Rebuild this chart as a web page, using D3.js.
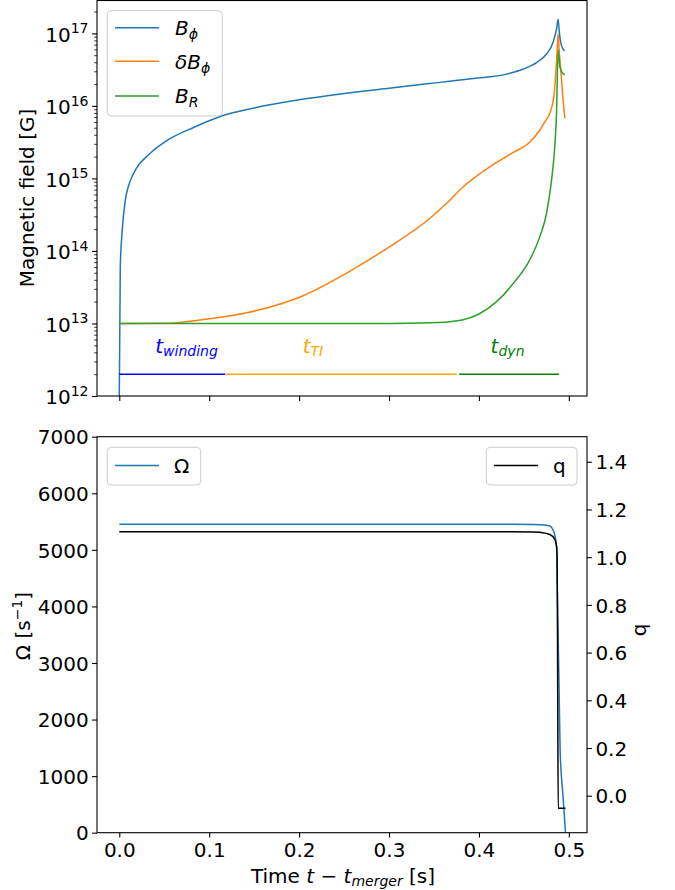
<!DOCTYPE html>
<html><head><meta charset="utf-8">
<script src="https://cdn.jsdelivr.net/npm/d3@7"></script>
<style>body{margin:0;background:#fff} svg{display:block} text{font-family:"DejaVu Sans",sans-serif}</style>
</head><body><svg id="c" width="675" height="890"></svg>
<script>
// ---- data ----
const tPhi = [0, 0.0011, 0.003, 0.0067, 0.0106, 0.0159, 0.0344, 0.053, 0.0826, 0.1122, 0.15, 0.2, 0.25, 0.3, 0.3567, 0.3937, 0.4308, 0.4492, 0.4641, 0.4752, 0.4826, 0.4863, 0.4881, 0.4892, 0.4908, 0.493, 0.4956];
const bPhi = [1e12, 6.07e13, 1.75e14, 5.04e14, 8.1e14, 1.175e15, 2.22e15, 3.33e15, 5.04e15, 7.14e15, 9.35e15, 1.213e16, 1.48e16, 1.754e16, 2.11e16, 2.38e16, 2.74e16, 3.22e16, 3.96e16, 5.19e16, 7.60e16, 1.15e17, 1.56e17, 1.11e17, 7.67e16, 6.22e16, 5.77e16];
const tDPhi = [0, 0.05, 0.09, 0.1456, 0.2011, 0.2567, 0.3, 0.3456, 0.3641, 0.3826, 0.4011, 0.4197, 0.4381, 0.4567, 0.4678, 0.4733, 0.4789, 0.4833, 0.485, 0.487, 0.4881, 0.4892, 0.4908, 0.493, 0.4956];
const dBPhi = [1e13, 1.007e13, 1.117e13, 1.44e13, 2.32e13, 5.28e13, 1.13e14, 2.82e14, 4.54e14, 7.69e14, 1.16e15, 1.66e15, 2.28e15, 3.18e15, 4.65e15, 6.0e15, 7.98e15, 1.33e16, 2.28e16, 5.89e16, 9.79e16, 5.89e16, 3.47e16, 1.48e16, 6.76e15];
const tR = [0, 0.3, 0.3456, 0.3815, 0.4, 0.4197, 0.4381, 0.4567, 0.4678, 0.4752, 0.4808, 0.4844, 0.4863, 0.4881, 0.49, 0.493, 0.4956];
const bR = [1e13, 1e13, 1.02e13, 1.12e13, 1.35e13, 2.0e13, 3.55e13, 7.59e13, 1.58e14, 3.31e14, 9.55e14, 2.82e15, 7.94e15, 5.89e16, 3.47e16, 2.82e16, 2.69e16];

const tOm = [0, 0.46, 0.4678, 0.4789, 0.4826, 0.4844, 0.4863, 0.4870, 0.4880, 0.4892, 0.4903, 0.4935, 0.4963];
const omega = [5452, 5450, 5445, 5420, 5346, 5258, 5055, 4468, 3600, 2500, 1460, 650, 0];
const tQ = [0, 0.46, 0.4678, 0.4789, 0.4844, 0.4863, 0.4870, 0.4876, 0.4882, 0.4963];
const qVals = [1.107, 1.106, 1.104, 1.095, 1.075, 1.047, 1.005, 0.45, -0.053, -0.053];

// timescale bars: [start, end]
const scaleNames = ["winding", "TI", "dyn"];
const scaleStart = [0, 0.1186, 0.3781];
const scaleEnd = [0.1178, 0.3752, 0.4889];
const scaleLabelT = [0.040, 0.204, 0.413];
const scaleColors = ["blue", "orange", "green"];
const scaleBarLevel = 2e12, scaleLabelLevel = 3.9e12;

const xTicks = [0, 0.1, 0.2, 0.3, 0.4, 0.5];
const bMajor = [1e12, 1e13, 1e14, 1e15, 1e16, 1e17];
const omTicks = [0, 1000, 2000, 3000, 4000, 5000, 6000, 7000];
const qTicks = [0, 0.2, 0.4, 0.6, 0.8, 1.0, 1.2, 1.4];

// ---- layout ----
const svg = d3.select('#c');
const L = 97, R = 587, T1 = 0, B1 = 396, T2 = 436.7, B2 = 832.7;
const FS = 20;
const x = d3.scaleLinear().domain([-0.0248, 0.5202]).range([L, R]);
const y1 = d3.scaleLog().domain([1e12, Math.pow(10, 17.46)]).range([B1, T1]);
const y2 = d3.scaleLinear().domain([0, 7000]).range([B2, T2]);
const y3 = d3.scaleLinear().domain([-0.155, 1.505]).range([B2, T2]);

const defs = svg.append('defs');
defs.append('clipPath').attr('id', 'cp1').append('rect').attr('x', L).attr('y', T1).attr('width', R - L).attr('height', B1 - T1);
defs.append('clipPath').attr('id', 'cp2').append('rect').attr('x', L).attr('y', T2).attr('width', R - L).attr('height', B2 - T2);

const C = {blue: '#1f77b4', orange: '#ff7f0e', green: '#2ca02c'};

function drawLine(g, ts, vs, ys, color) {
  const line = d3.line().x((d, i) => x(ts[i])).y((d, i) => ys(vs[i])).curve(d3.curveMonotoneX);
  g.append('path').attr('d', line(vs)).attr('fill', 'none').attr('stroke', color).attr('stroke-width', 1.5);
}

// ---- top panel ----
const g1 = svg.append('g').attr('clip-path', 'url(#cp1)');
drawLine(g1, tPhi, bPhi, y1, C.blue);
drawLine(g1, tDPhi, dBPhi, y1, C.orange);
drawLine(g1, tR, bR, y1, C.green);

// timescale bars
scaleNames.forEach((n, i) => {
  g1.append('line').attr('x1', x(scaleStart[i])).attr('x2', x(scaleEnd[i]))
    .attr('y1', y1(scaleBarLevel)).attr('y2', y1(scaleBarLevel))
    .attr('stroke', scaleColors[i]).attr('stroke-width', 1.5);
  const t = svg.append('text').attr('x', x(scaleLabelT[i])).attr('y', y1(scaleLabelLevel))
    .attr('fill', scaleColors[i]).attr('font-size', FS);
  t.append('tspan').attr('font-style', 'italic').text('t');
  t.append('tspan').attr('font-style', 'italic').attr('font-size', 14).attr('dy', 2.5).text(n);
});

function styleAxis(g) {
  g.select('.domain').remove();
  g.selectAll('.tick line').attr('stroke', '#000').attr('stroke-width', 1.1);
  g.selectAll('.tick text').attr('font-size', FS).attr('fill', '#000').attr('font-family', '"DejaVu Sans",sans-serif');
}

// top x ticks (no labels)
svg.append('g').attr('transform', `translate(0,${B1})`)
  .call(d3.axisBottom(x).tickValues(xTicks).tickSize(4.9).tickFormat('')).call(styleAxis);

// top y ticks
const bMinor = [];
for (let e = 12; e <= 17; e++) for (let m = 2; m <= 9; m++) { const v = m * Math.pow(10, e); if (v < y1.domain()[1]) bMinor.push(v); }
svg.append('g').attr('transform', `translate(${L},0)`)
  .call(d3.axisLeft(y1).tickValues(bMajor).tickSize(4.9).tickFormat('')).call(styleAxis);
svg.append('g').attr('transform', `translate(${L},0)`)
  .call(d3.axisLeft(y1).tickValues(bMinor).tickSize(2.8).tickFormat('')).call(styleAxis)
  .selectAll('.tick line').attr('stroke-width', 0.8);
bMajor.forEach(v => {
  const e = Math.round(Math.log10(v));
  const t = svg.append('text').attr('x', 88.5).attr('y', y1(v) + 8.4).attr('text-anchor', 'end').attr('font-size', FS);
  t.append('tspan').text('10');
  t.append('tspan').attr('font-size', 14).attr('dy', -8.4).text(String(e));
});

svg.append('rect').attr('x', L).attr('y', T1 + 0.5).attr('width', R - L).attr('height', B1 - T1 - 0.5)
  .attr('fill', 'none').attr('stroke', '#000').attr('stroke-width', 1.1);

svg.append('text').attr('transform', `translate(34,198) rotate(-90)`).attr('text-anchor', 'middle')
  .attr('font-size', FS).text('Magnetic field [G]');

// top legend
const lg1 = svg.append('g');
lg1.append('rect').attr('x', 107.3).attr('y', 10.7).attr('width', 115).attr('height', 105.3).attr('rx', 4)
  .attr('fill', 'rgba(255,255,255,0.8)').attr('stroke', '#cccccc').attr('stroke-width', 1);
const legItems = [
  {c: C.blue, pre: '', main: 'B', sub: 'ϕ', y: 27.7},
  {c: C.orange, pre: 'δ', main: 'B', sub: 'ϕ', y: 61.3},
  {c: C.green, pre: '', main: 'B', sub: 'R', y: 96}
];
legItems.forEach(d => {
  lg1.append('line').attr('x1', 115).attr('x2', 159).attr('y1', d.y).attr('y2', d.y).attr('stroke', d.c).attr('stroke-width', 1.5);
  const t = lg1.append('text').attr('x', 175).attr('y', d.y + 7.3).attr('font-size', FS).attr('font-style', 'italic');
  if (d.pre) t.append('tspan').text(d.pre);
  t.append('tspan').text(d.main);
  t.append('tspan').attr('font-size', 14).attr('dy', 4).text(d.sub);
});

// ---- bottom panel ----
const g2 = svg.append('g').attr('clip-path', 'url(#cp2)');
drawLine(g2, tOm, omega, y2, C.blue);
drawLine(g2, tQ, qVals, y3, '#000');

svg.append('g').attr('transform', `translate(0,${B2})`)
  .call(d3.axisBottom(x).tickValues(xTicks).tickSize(4.9).tickPadding(4.9).tickFormat(d3.format('.1f'))).call(styleAxis);
svg.append('g').attr('transform', `translate(${L},0)`)
  .call(d3.axisLeft(y2).tickValues(omTicks).tickSize(4.9).tickPadding(3.5).tickFormat(d3.format('d'))).call(styleAxis)
  .selectAll('.tick text').attr('dy', '0.36em');
svg.append('g').attr('transform', `translate(${R},0)`)
  .call(d3.axisRight(y3).tickValues(qTicks).tickSize(4.9).tickPadding(3.5).tickFormat(d3.format('.1f'))).call(styleAxis)
  .selectAll('.tick text').attr('dy', '0.36em');

svg.append('rect').attr('x', L).attr('y', T2).attr('width', R - L).attr('height', B2 - T2)
  .attr('fill', 'none').attr('stroke', '#000').attr('stroke-width', 1.1);

// axis labels
const om = svg.append('text').attr('transform', `translate(30,626) rotate(-90)`).attr('text-anchor', 'middle').attr('font-size', FS);
om.append('tspan').text('Ω [s');
om.append('tspan').attr('font-size', 14).attr('dy', -8).text('−1');
om.append('tspan').attr('dy', 8).text(']');

svg.append('text').attr('transform', `translate(646,630) rotate(-90)`).attr('text-anchor', 'middle')
  .attr('font-size', FS).text('q');

const xl = svg.append('text').attr('x', 343).attr('y', 883).attr('text-anchor', 'middle').attr('font-size', FS);
xl.append('tspan').text('Time ');
xl.append('tspan').attr('font-style', 'italic').text('t');
xl.append('tspan').text(' − ');
xl.append('tspan').attr('font-style', 'italic').text('t');
xl.append('tspan').attr('font-style', 'italic').attr('font-size', 14).attr('dy', 2.5).text('merger');
xl.append('tspan').attr('dy', -2.5).text(' [s]');

// bottom legends
function smallLegend(x0, w, color, label) {
  const g = svg.append('g');
  g.append('rect').attr('x', x0).attr('y', 447.3).attr('width', w).attr('height', 37.7).attr('rx', 4)
    .attr('fill', 'rgba(255,255,255,0.8)').attr('stroke', '#cccccc').attr('stroke-width', 1);
  g.append('line').attr('x1', x0 + 7.7).attr('x2', x0 + 51.7).attr('y1', 465.5).attr('y2', 465.5)
    .attr('stroke', color).attr('stroke-width', 1.5);
  g.append('text').attr('x', x0 + 66.7).attr('y', 472.5).attr('font-size', FS).text(label);
}
smallLegend(107.3, 93.4, C.blue, 'Ω');
smallLegend(486.3, 90.7, '#000', 'q');
</script></body></html>
